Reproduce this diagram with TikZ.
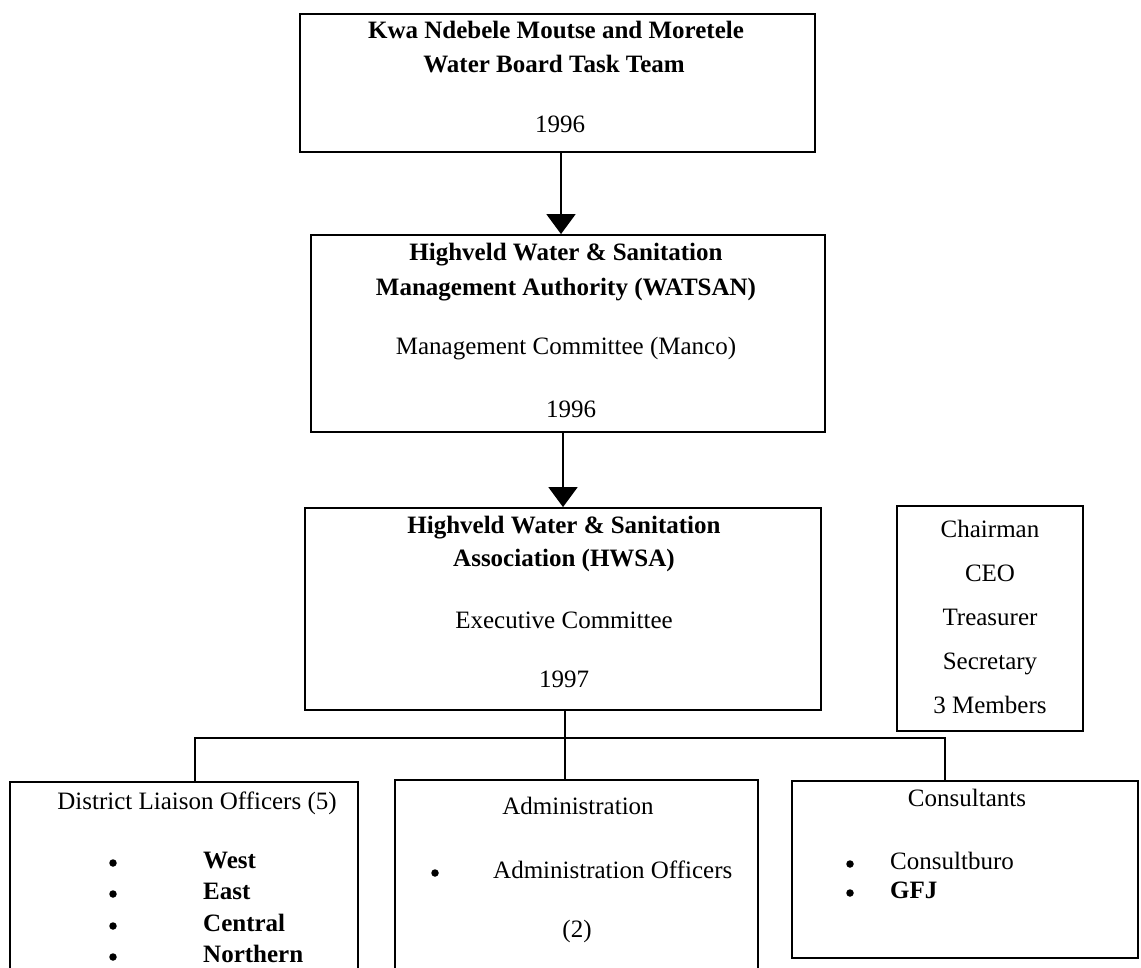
\documentclass[tikz,border=0pt]{standalone}
\usepackage{fontspec}
\setmainfont{Liberation Serif}
\usetikzlibrary{arrows.meta}
\begin{document}
\begin{tikzpicture}[x=1pt,y=-1pt,
  box/.style={draw, line width=1.8pt, rectangle, inner sep=0pt},
  txt/.style={inner sep=0pt, anchor=mid, font=\fontsize{25}{30}\selectfont},
  btxt/.style={inner sep=0pt, anchor=mid, font=\fontsize{25}{30}\selectfont\bfseries},
  ltxt/.style={txt, anchor=mid west},
  lbtxt/.style={btxt, anchor=mid west},
  bul/.style={circle, fill, inner sep=0pt, minimum size=7.5pt},
  conn/.style={line width=1.8pt},
  arr/.style={conn, -{Triangle[width=29pt,length=20pt]}}]
\useasboundingbox (0,0) rectangle (1141,968);
\clip (0,0) rectangle (1141,968);
\fill[white] (0,0) rectangle (1141,968);

% boxes
\node[box, minimum width=515pt, minimum height=138pt] (b1) at (557.5,83) {};
\node[box, minimum width=514pt, minimum height=197pt] (b2) at (568,333.5) {};
\node[box, minimum width=516pt, minimum height=202pt] (b3) at (563,609) {};
\node[box, minimum width=186pt, minimum height=225pt] (chair) at (990,618.5) {};
\node[box, minimum width=348pt, minimum height=228pt] (dlo) at (184,896) {};
\node[box, minimum width=363pt, minimum height=230pt] (admin) at (576.5,895) {};
\node[box, minimum width=346pt, minimum height=177pt] (cons) at (965,869.5) {};

% box 1 text
\node[btxt] (t1a) at (556,36) {Kwa Ndebele Moutse and Moretele};
\node[btxt] (t1b) at (554,70) {Water Board Task Team};
\node[txt] (t1c) at (560,130) {1996};

% box 2 text
\node[btxt] (t2a) at (566,258) {Highveld Water \& Sanitation};
\node[btxt] (t2b) at (566,293) {Management Authority (WATSAN)};
\node[txt] (t2c) at (566,352) {Management Committee (Manco)};
\node[txt] (t2d) at (571,415) {1996};

% box 3 text
\node[btxt] (t3a) at (564,531) {Highveld Water \& Sanitation};
\node[btxt] (t3b) at (564,564) {Association (HWSA)};
\node[txt] (t3c) at (564,626) {Executive Committee};
\node[txt] (t3d) at (564,685) {1997};

% chair box text
\node[txt] (c1) at (990,535) {Chairman};
\node[txt] (c2) at (990,579) {CEO};
\node[txt] (c3) at (990,623) {Treasurer};
\node[txt] (c4) at (990,667) {Secretary};
\node[txt] (c5) at (990,711) {3 Members};

% district liaison
\node[txt] (d0) at (197,807) {District Liaison Officers (5)};
\node[bul] (db1) at (113,863) {};
\node[bul] (db2) at (113,894) {};
\node[bul] (db3) at (113,926) {};
\node[bul] (db4) at (113,957) {};
\node[lbtxt] (d1) at (203,866) {West};
\node[lbtxt] (d2) at (203,897) {East};
\node[lbtxt] (d3) at (203,929) {Central};
\node[lbtxt] (d4) at (203,960) {Northern};

% administration
\node[txt] (a0) at (578,812) {Administration};
\node[bul] (ab1) at (435,873) {};
\node[ltxt] (a1) at (493,876) {Administration Officers};
\node[txt] (a2) at (577,935) {(2)};

% consultants
\node[txt] (k0) at (967,804) {Consultants};
\node[bul] (kb1) at (850,864) {};
\node[bul] (kb2) at (850,893) {};
\node[ltxt] (k1) at (890,867) {Consultburo};
\node[lbtxt] (k2) at (890,896) {GFJ};

% connectors
\coordinate (xa) at (561,0);
\coordinate (xb) at (563,0);
\draw[arr] (xa |- b1.south) -- (xa |- b2.north);
\draw[arr] (xb |- b2.south) -- (xb |- b3.north);
\coordinate (bus) at (565,738);
\coordinate (busL) at (195,738);
\coordinate (busR) at (945,738);
\draw[conn] (bus |- b3.south) -- (bus |- admin.north);
\draw[conn] (busL |- dlo.north) -- (busL) -- (busR) -- (busR |- cons.north);
\end{tikzpicture}
\end{document}
